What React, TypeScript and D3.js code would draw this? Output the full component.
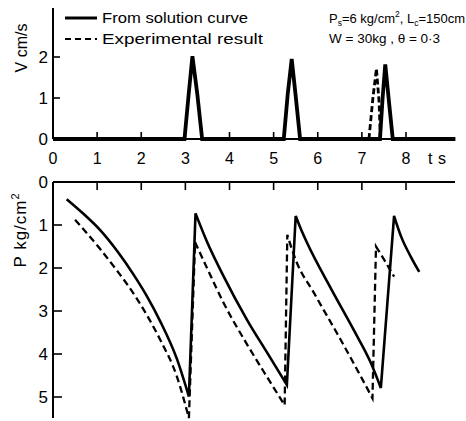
import React from "react";
import * as d3 from "d3";

// ---- data ----
const tTicks = [0, 1, 2, 3, 4, 5, 6, 7, 8];
const vTicks = [0, 1, 2];
const pTicks = [0, 1, 2, 3, 4, 5];

// Velocity V (cm/s) vs t (s)
const solidV: [number, number][] = [
  [0, 0], [2.98, 0], [3.08, 1.15], [3.16, 2.02], [3.27, 1.1], [3.38, 0],
  [5.23, 0], [5.32, 1.1], [5.41, 1.95], [5.5, 1.05], [5.6, 0],
  [7.41, 0], [7.47, 1.0], [7.53, 1.82], [7.61, 0.95], [7.7, 0], [9.12, 0],
];
const expV: [number, number][] = [
  [7.16, 0], [7.25, 1.0], [7.33, 1.72], [7.39, 0.9], [7.42, 0],
];

// Pressure P (kg/cm^2) vs t (s), one array per decay cycle
const solidP1: [number, number][] = [
  [0.31, 0.4], [0.69, 0.74], [1.07, 1.12], [1.45, 1.6], [1.83, 2.16],
  [2.13, 2.66], [2.43, 3.24], [2.81, 4.12], [3.08, 4.99],
];
const solidP2: [number, number][] = [
  [3.23, 0.73], [3.49, 1.39], [3.87, 2.2], [4.4, 3.21], [4.86, 3.98], [5.3, 4.72],
];
const solidP3: [number, number][] = [
  [5.5, 0.79], [5.62, 1.1], [5.76, 1.42], [6.3, 2.48], [6.83, 3.47], [7.2, 4.2], [7.43, 4.79],
];
const solidP4: [number, number][] = [
  [7.73, 0.79], [7.89, 1.27], [8.11, 1.74], [8.3, 2.09],
];
const expP1: [number, number][] = [
  [0.5, 0.88], [0.69, 1.1], [1.07, 1.56], [1.45, 2.06], [1.83, 2.6],
  [2.13, 3.1], [2.43, 3.67], [2.81, 4.53], [3.08, 5.49],
];
const expP2: [number, number][] = [
  [3.22, 1.4], [3.49, 2.0], [3.87, 2.82], [4.4, 3.78], [4.86, 4.55], [5.25, 5.19],
];
const expP3: [number, number][] = [
  [5.31, 1.23], [5.5, 1.81], [5.92, 2.59], [6.52, 3.67], [6.98, 4.53], [7.24, 5.03],
];
const expP4: [number, number][] = [
  [7.32, 1.5], [7.5, 1.8], [7.73, 2.2],
];

const W = 466;
const H = 421;

export default function App() {
  const x = d3.scaleLinear().domain([0, 8]).range([53, 406]);
  const yV = d3.scaleLinear().domain([0, 2]).range([139, 57]);
  const yP = d3.scaleLinear().domain([0, 5]).range([182, 397]);

  const lineV = d3.line<[number, number]>().x((d) => x(d[0])).y((d) => yV(d[1]));
  const curveP = d3
    .line<[number, number]>()
    .x((d) => x(d[0]))
    .y((d) => yP(d[1]))
    .curve(d3.curveMonotoneX);
  const straightP = d3.line<[number, number]>().x((d) => x(d[0])).y((d) => yP(d[1]));

  const joined = (cycles: [number, number][][]) => {
    let d = "";
    cycles.forEach((c, i) => {
      if (i > 0) {
        const prev = cycles[i - 1];
        const rise = straightP([prev[prev.length - 1], c[0]]) as string;
        d += rise.replace(/^M[^L]*/, "");
      }
      const s = curveP(c) as string;
      d += i === 0 ? s : s.replace(/^M/, "L");
    });
    return d;
  };

  const solidPath = joined([solidP1, solidP2, solidP3, solidP4]);
  const expPath = joined([expP1, expP2, expP3, expP4]);

  const font = "'Liberation Sans', Arial, sans-serif";
  const xEnd = 455;

  return (
    <svg
      width={W}
      height={H}
      style={{ position: "absolute", left: 0, top: 0, background: "#fff" }}
      fontFamily={font}
    >
      {/* ---------- Top chart ---------- */}
      <line x1={53} y1={8} x2={53} y2={139} stroke="#000" strokeWidth={2} />
      <line x1={53} y1={139} x2={xEnd} y2={139} stroke="#000" strokeWidth={2.2} />
      {tTicks.slice(1).map((t) => (
        <line key={"tt" + t} x1={x(t)} x2={x(t)} y1={139} y2={132} stroke="#000" strokeWidth={1.6} />
      ))}
      {vTicks.slice(1).map((v) => (
        <line key={"vt" + v} x1={53} x2={60} y1={yV(v)} y2={yV(v)} stroke="#000" strokeWidth={1.6} />
      ))}
      {vTicks.map((v) => (
        <text key={"vl" + v} x={48} y={yV(v) + 6} fontSize={17} textAnchor="end">
          {v}
        </text>
      ))}
      {tTicks.map((t) => (
        <text key={"tl" + t} x={x(t)} y={164} fontSize={16} textAnchor="middle">
          {t}
        </text>
      ))}
      <text x={428} y={164} fontSize={16}>t</text>
      <text x={438} y={164} fontSize={16}>s</text>
      <text transform="translate(27,48) rotate(-90)" fontSize={16} textAnchor="middle">
        V  cm/s
      </text>

      <path d={lineV(solidV) as string} fill="none" stroke="#000" strokeWidth={3.8} strokeLinejoin="miter" />
      <path d={lineV(expV) as string} fill="none" stroke="#000" strokeWidth={2.8} strokeDasharray="6,3" />

      {/* legend */}
      <line x1={65} x2={97} y1={18} y2={18} stroke="#000" strokeWidth={3} />
      <text x={102} y={23} fontSize={15.5} textLength={146} lengthAdjust="spacingAndGlyphs">
        From solution curve
      </text>
      <line x1={65} x2={97} y1={39} y2={39} stroke="#000" strokeWidth={2.2} strokeDasharray="6,4" />
      <text x={102} y={44} fontSize={15.5} textLength={161} lengthAdjust="spacingAndGlyphs">
        Experimental result
      </text>
      <text x={329} y={23} fontSize={13}>
        P<tspan fontSize={8.5} dy={3}>s</tspan>
        <tspan dy={-3}>=6 kg/cm</tspan>
        <tspan fontSize={8.5} dy={-6}>2</tspan>
        <tspan dy={6}>, L</tspan>
        <tspan fontSize={8.5} dy={3}>c</tspan>
        <tspan dy={-3}>=150cm</tspan>
      </text>
      <text x={329} y={43} fontSize={13.5}>
        W = 30kg , θ = 0·3
      </text>

      {/* ---------- Bottom chart ---------- */}
      <line x1={53} y1={182} x2={xEnd} y2={182} stroke="#000" strokeWidth={2.2} />
      <line x1={53} y1={182} x2={53} y2={418} stroke="#000" strokeWidth={2} />
      {tTicks.slice(1).map((t) => (
        <line key={"bt" + t} x1={x(t)} x2={x(t)} y1={182} y2={190} stroke="#000" strokeWidth={1.6} />
      ))}
      {pTicks.slice(1).map((p) => (
        <line key={"pt" + p} x1={53} x2={62} y1={yP(p)} y2={yP(p)} stroke="#000" strokeWidth={1.6} />
      ))}
      {pTicks.map((p) => (
        <text key={"pl" + p} x={48} y={yP(p) + 6} fontSize={17} textAnchor="end">
          {p}
        </text>
      ))}
      <text transform="translate(26,230) rotate(-90)" fontSize={17} textAnchor="middle" letterSpacing={1}>
        P  kg/cm<tspan fontSize={11} dy={-7}>2</tspan>
      </text>

      <path d={expPath} fill="none" stroke="#000" strokeWidth={2.3} strokeDasharray="7,4" />
      <path d={solidPath} fill="none" stroke="#000" strokeWidth={2.6} strokeLinejoin="miter" />
    </svg>
  );
}
